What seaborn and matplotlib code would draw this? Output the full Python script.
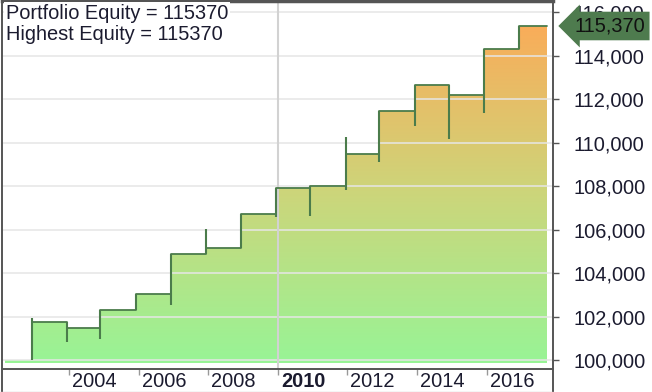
"""
equity curve of a yearly-rebalanced portfolio, stepped line with gradient fill
"""
import matplotlib as mpl
import matplotlib.pyplot as plt
import matplotlib.colors as mcolors
import matplotlib.transforms as mtransforms
from matplotlib.lines import Line2D
import seaborn as sns
import numpy as np
import pandas as pd

sns.set_style('white')
plt.rcParams['font.family'] = ['Liberation Sans', 'DejaVu Sans']

#%% data (decimal years)
start_year = 2002.16
end_year = 2017.74
start_equity = 100000
step_years = [2002.94, 2003.93, 2004.89, 2005.92, 2006.93, 2007.93, 2008.93, 2009.95,
              2010.93, 2011.95, 2012.91, 2013.94, 2014.92, 2015.93, 2016.93]
equity = [101740, 101480, 102320, 103050, 104860, 105170, 106740, 107920,
          108000, 109500, 111450, 112660, 112200, 114330, 115370]
# range covered at each rebalance (the little vertical wicks)
wick_low = [100000, 100820, 100980, 102320, 102520, 104860, 105170, 106590,
            106640, 107820, 109130, 110790, 110175, 111360, 114330]
wick_high = [101950, 101740, 102320, 103050, 104860, 106020, 106740, 107920,
             108000, 110250, 111450, 112660, 112660, 114330, 115370]

xtick_years = [2004, 2006, 2008, 2010, 2012, 2014, 2016]
xtick_labels = ['2004', '2006', '2008', '2010', '2012', '2014', '2016']
ytick_values = [100000, 102000, 104000, 106000, 108000, 110000, 112000, 114000, 116000]

line_color = '#4b7c4b'
text_color = '#1b1b2f'
fsize = 14.4

df = pd.DataFrame({'year': step_years + [end_year],
                   'equity': equity + [equity[-1]]})

#%% figure
fig = plt.figure(figsize=(6.52, 3.92), dpi=100)
ax = fig.add_axes([1.5 / 652, 23 / 392, 551.5 / 652, 368 / 392])

# gradient fill under the curve, clipped to the stepped area
fill_x = [start_year] + step_years + [end_year]
fill_y = [start_equity] + equity + [equity[-1]]
poly = ax.fill_between(fill_x, fill_y, 99880, step='post', facecolor='none',
                       edgecolor='none')
cmap = mcolors.LinearSegmentedColormap.from_list('eq', ['#98f496', '#cdd57a', '#fbab58'])
grad = np.linspace(0, 1, 256).reshape(-1, 1)
im = ax.imshow(grad, cmap=cmap, origin='lower', aspect='auto',
               extent=[start_year, end_year, 99880, 115700], zorder=1)
im.set_clip_path(poly.get_paths()[0], transform=ax.transData)
ax.set_xlim(2002.06, 2017.91)
ax.set_ylim(99585, 116520)

# grid: horizontal at each tick, vertical only at 2010
for yv in ytick_values:
    ax.axhline(yv, color='#e6e6e6', lw=1.3, alpha=0.85, zorder=2)
ax.axvline(2010, color='#d2d2d2', lw=1.5, zorder=2)

# equity line + wicks
sns.lineplot(data=df, x='year', y='equity', drawstyle='steps-post', sort=False,
             color=line_color, lw=1.3, ax=ax, zorder=4)
ax.vlines(step_years, wick_low, wick_high, color=line_color, lw=1.5, zorder=4)

# axes styling
ax.yaxis.tick_right()
ax.set_yticks(ytick_values)
ax.yaxis.set_major_formatter(mpl.ticker.StrMethodFormatter('{x:,.0f}'))
ax.set_xticks(xtick_years)
ax.set_xticklabels(xtick_labels)
ax.tick_params(axis='y', right=True, length=4, width=1, color='#555555', pad=11,
               labelsize=fsize, labelcolor=text_color)
ax.tick_params(axis='x', bottom=True, length=4, width=1, color='#999999', pad=-2,
               labelsize=fsize, labelcolor=text_color, direction='out')
offset = mtransforms.ScaledTranslation(3 / 100, 0, fig.dpi_scale_trans)
for lbl in ax.get_xticklabels():
    lbl.set_ha('left')
    lbl.set_transform(lbl.get_transform() + offset)
    if lbl.get_text() == '2010':
        lbl.set_fontweight('bold')
ax.set(xlabel='', ylabel='')
for s in ['left', 'top', 'bottom', 'right']:
    ax.spines[s].set_color('#555555')
    ax.spines[s].set_linewidth(1.4)
ax.spines['top'].set_linewidth(2.5)

# the side lines carry on through the x-label strip
fig.add_artist(Line2D([553 / 652, 553 / 652], [0, 23 / 392], color='#555555', lw=1.4))
fig.add_artist(Line2D([1.5 / 652, 1.5 / 652], [0, 23 / 392], color='#555555', lw=1.4))
fig.add_artist(Line2D([0, 553 / 652], [0.5 / 392, 0.5 / 392], color='#cccccc', lw=1))

# last value tag on the right axis
ax.annotate('115,370', xy=(1, 115370), xycoords=('axes fraction', 'data'),
            xytext=(21, 0), textcoords='offset pixels', ha='left', va='center',
            fontsize=fsize, color='#111111', annotation_clip=False,
            bbox=dict(boxstyle='larrow,pad=0.24', fc='#4e7b4e', ec='none'), zorder=10)

# header text top left
ax.text(5 / 652, 0.992, 'Portfolio Equity = 115370\nHighest Equity = 115370',
        transform=ax.transAxes, ha='left', va='top', fontsize=fsize, color=text_color,
        linespacing=1.14, zorder=10,
        bbox=dict(boxstyle='square,pad=0.1', fc='white', ec='none'))

fig.savefig('out.png', dpi=100, facecolor='white')
